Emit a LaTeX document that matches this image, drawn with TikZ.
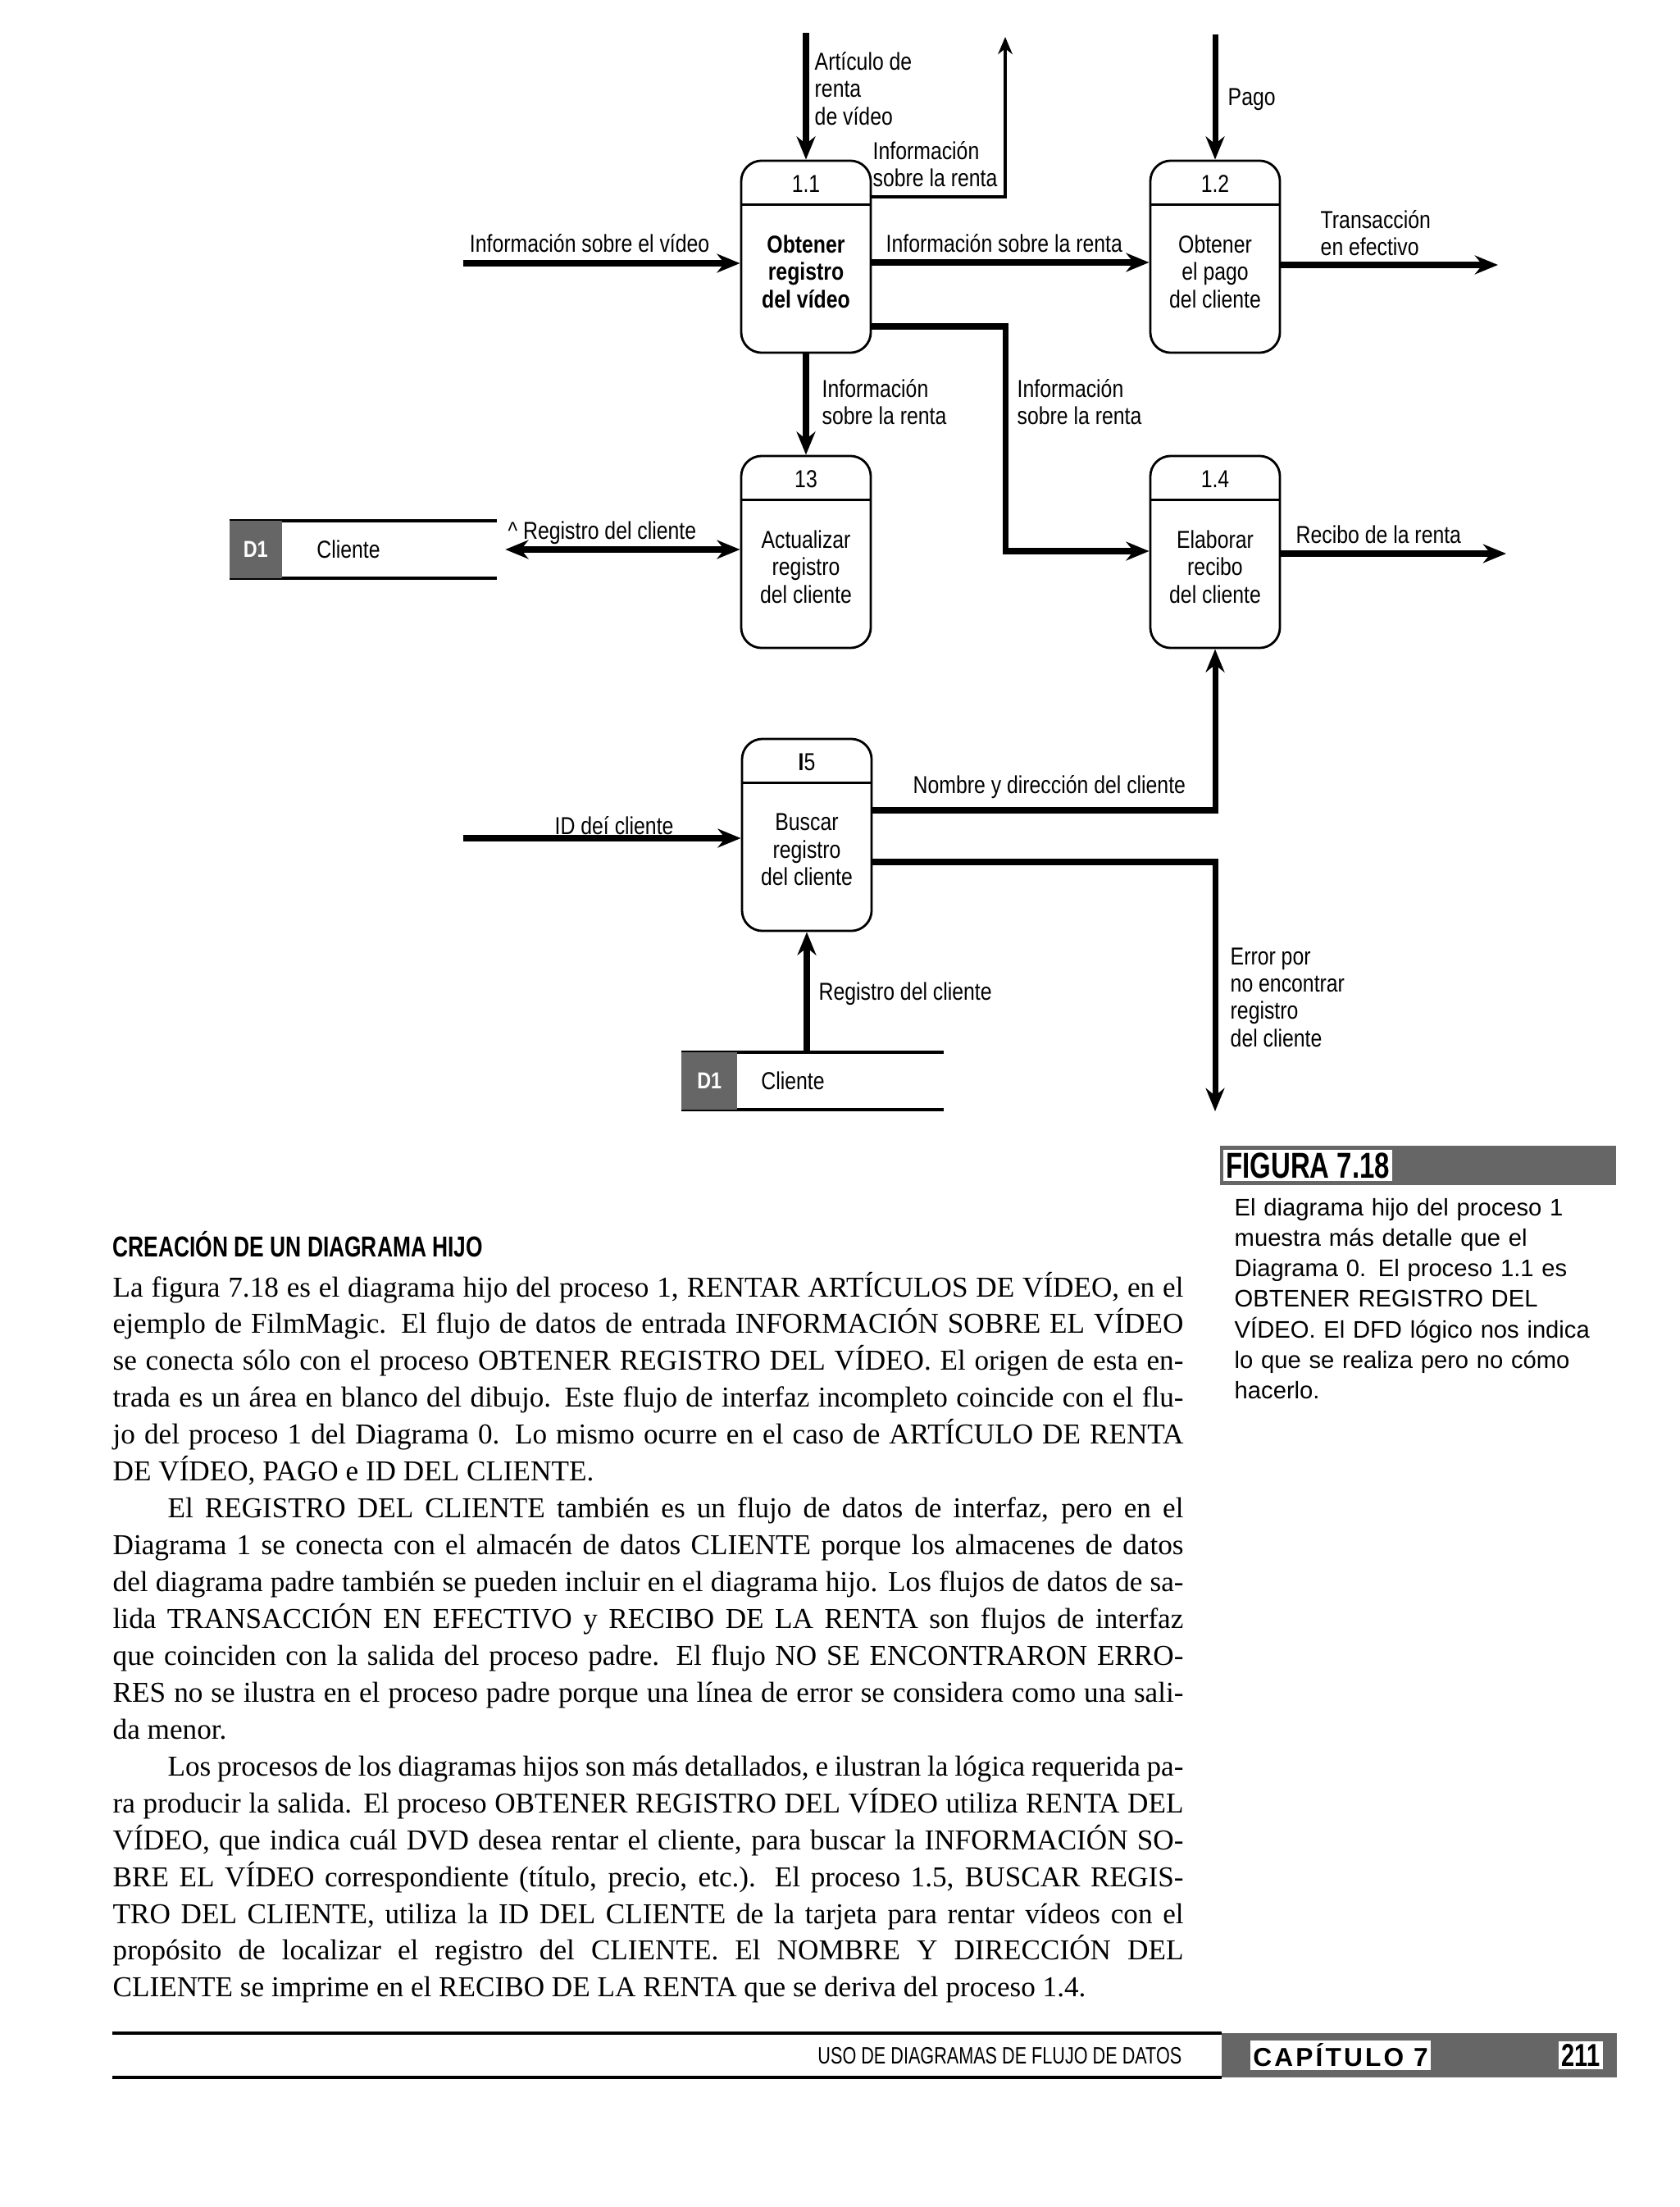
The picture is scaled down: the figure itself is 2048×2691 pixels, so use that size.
\documentclass[tikz,border=0pt]{standalone}
\usepackage{fontspec}
\setmainfont{Liberation Serif}
\newfontfamily\dfdfont[FakeStretch=0.83]{Liberation Sans}
\newfontfamily\narrowfont[FakeStretch=0.75]{Liberation Sans}
\newfontfamily\capfont{Liberation Sans}
\usetikzlibrary{arrows.meta,positioning,calc}

\newcommand\lblfont{\dfdfont\fontsize{8.5}{9.5}\selectfont}
\newcommand\jl[1]{\makebox[\hsize][s]{#1}\par}

\tikzset{
  proc/.style={draw, line width=0.8pt, rounded corners=0.25cm,
               minimum width=1.58cm, minimum height=2.34cm},
  lbl/.style={font=\lblfont, align=left},
  flow/.style={line width=2pt, -{Stealth[length=8pt,width=6.5pt]}},
  flowtwo/.style={line width=2pt,
                  {Stealth[length=8pt,width=6.5pt]}-{Stealth[length=8pt,width=6.5pt]}},
  thinflow/.style={line width=1.3pt, -{Stealth[length=6pt,width=5pt]}},
  store/.style={minimum height=0.69cm},
  shade/.style={fill=black!60},
}

\begin{document}
\begin{tikzpicture}[x=0.01cm, y=-0.01cm,
  every node/.style={inner sep=0pt},
]
\useasboundingbox (0,0) rectangle (2048,2691);
\fill[white] (0,0) rectangle (2048,2691);

%% Processes
\node[proc] (p11) at (983,313) {};
\node[proc] (p12) at (1482,313) {};
\node[proc] (p13) at (983,673) {};
\node[proc] (p14) at (1482,673) {};
\node[proc] (p15) at (984,1018) {};
\foreach \p in {p11,p12,p13,p14,p15}
  \draw[line width=0.8pt] ([yshift=-0.55cm]\p.north west) -- ([yshift=-0.55cm]\p.north east);

\node[lbl] (n11) at ([yshift=-0.3cm]p11.north) {1.1};
\node[lbl] (n12) at ([yshift=-0.3cm]p12.north) {1.2};
\node[lbl] (n13) at ([yshift=-0.3cm]p13.north) {13};
\node[lbl] (n14) at ([yshift=-0.3cm]p14.north) {1.4};
\node[lbl] (n15) at ([yshift=-0.3cm]p15.north) {\textbf{I}5};

\node[lbl, align=center] (t11) at ([yshift=-0.18cm]p11.center) {\bfseries Obtener\\\bfseries registro\\\bfseries del vídeo};
\node[lbl, align=center] (t12) at ([yshift=-0.18cm]p12.center) {Obtener\\el pago\\del cliente};
\node[lbl, align=center] (t13) at ([yshift=-0.18cm]p13.center) {Actualizar\\registro\\del cliente};
\node[lbl, align=center] (t14) at ([yshift=-0.18cm]p14.center) {Elaborar\\recibo\\del cliente};
\node[lbl, align=center] (t15) at ([yshift=-0.18cm]p15.center) {Buscar\\registro\\del cliente};

%% Data stores
\node[store, minimum width=3.25cm] (d1) at (443,670) {};
\node[store, minimum width=3.18cm] (d2) at (991,1318) {};
\foreach \s/\w in {d1/0.64cm, d2/0.68cm}{
  \draw[line width=1.2pt] (\s.north west) -- (\s.north east) (\s.south west) -- (\s.south east);
  \fill[shade] (\s.north west) rectangle ([xshift=\w]\s.south west);
}
\node[font=\dfdfont\bfseries\fontsize{8}{9}\selectfont, text=white] (d1n) at ([xshift=0.32cm]d1.west) {D1};
\node[font=\dfdfont\bfseries\fontsize{8}{9}\selectfont, text=white] (d2n) at ([xshift=0.34cm]d2.west) {D1};
\node[lbl] (d1t) at (425,670) {Cliente};
\node[lbl] (d2t) at (967,1318) {Cliente};

%% Free ends and bends
\coordinate (artin) at (983,40);
\coordinate (ub)    at (1226,240);
\coordinate (uout)  at (1226,45);
\coordinate (vin)   at (565,321);
\coordinate (r12)   at (1200,320);
\coordinate (pin)   at (1482,42);
\coordinate (tout)  at (1827,323);
\coordinate (rb1)   at (1226,398);
\coordinate (rb2)   at (1226,672);
\coordinate (rout)  at (1837,675);
\coordinate (idin)  at (565,1022);
\coordinate (nb)    at (1482,988);
\coordinate (eb)    at (1482,1051);
\coordinate (eout)  at (1482,1355);

%% Flows
\draw[flow] (artin) -- (p11.north);
\draw[thinflow] (p11.east |- ub) -- (ub) -- (uout);
\draw[flow] (vin) -- (p11.west |- vin);
\draw[flow] (p11.east |- r12) -- (p12.west |- r12);
\draw[flow] (pin) -- (p12.north);
\draw[flow] (p12.east |- tout) -- (tout);
\draw[flow] (p11.south) -- (p13.north);
\draw[flow] (p11.east |- rb1) -- (rb1) -- (rb2) -- (p14.west |- rb2);
\draw[flowtwo] ([xshift=0.1cm]d1.east) -- (p13.west |- d1.east);
\draw[flow] (p14.east |- rout) -- (rout);
\draw[flow] (idin) -- (p15.west |- idin);
\draw[flow] (p15.east |- nb) -- (nb) -- (p14.south);
\draw[flow] (p15.east |- eb) -- (eb) -- (eout);
\draw[flow] (p15.south |- d2.north) -- (p15.south);

%% Flow labels
\node[lbl, anchor=west] (lart) at (993,108) {Artículo de\\renta\\de vídeo};
\node[lbl, anchor=west] (lup)  at (1064,200) {Información\\sobre la renta};
\node[lbl, anchor=east] (lvid) at (866,297) {Información sobre el vídeo};
\node[lbl, anchor=west] (l12)  at (1080,297) {Información sobre la renta};
\node[lbl, anchor=west] (lpag) at (1497,121) {Pago};
\node[lbl, anchor=west] (ltra) at (1610,284) {Transacción\\en efectivo};
\node[lbl, anchor=west] (l13)  at (1002,490) {Información\\sobre la renta};
\node[lbl, anchor=west] (l14)  at (1240,490) {Información\\sobre la renta};
\node[lbl, anchor=west] (lreg) at (619,650) {\textasciicircum{} Registro del cliente};
\node[lbl, anchor=west] (lrec) at (1580,652) {Recibo de la renta};
\node[lbl, anchor=west] (lid)  at (676,1007) {ID deí cliente};
\node[lbl, anchor=west] (lnom) at (1113,960) {Nombre y dirección del cliente};
\node[lbl, anchor=west] (lerr) at (1500,1216) {Error por\\no encontrar\\registro\\del cliente};
\node[lbl, anchor=west] (lreg2) at (998,1212) {Registro del cliente};

%% Figure caption
\fill[shade] (1488,1397) rectangle (1971,1445);
\node[fill=white, inner sep=1pt, anchor=west,
      font=\narrowfont\bfseries\fontsize{12.5}{13}\selectfont] (fig) at (1491,1421) {FIGURA 7.18};
\node[anchor=base west, text width=4.7cm, align=left,
      font=\capfont\fontsize{8.3}{10.6}\selectfont] (capt) at (1505,1482)
  {El diagrama hijo del proceso 1\\muestra más detalle que el\\Diagrama 0. El proceso 1.1 es\\OBTENER REGISTRO DEL\\VÍDEO. El DFD lógico nos indica\\lo que se realiza pero no cómo\\hacerlo.};

%% Section heading and text
\node[anchor=base west, font=\narrowfont\bfseries\fontsize{10}{12}\selectfont] (head) at (137,1532)
  {CREACIÓN DE UN DIAGRAMA HIJO};

\node[anchor=base west, text width=13.05cm, align=justify,
      font=\fontsize{10}{12.78}\selectfont] (body) at (137,1581) {%
\setlength{\parindent}{0pt}%
\jl{La figura 7.18 es el diagrama hijo del proceso 1, RENTAR ARTÍCULOS DE VÍDEO, en el}
\jl{ejemplo de FilmMagic. El flujo de datos de entrada INFORMACIÓN SOBRE EL VÍDEO}
\jl{se conecta sólo con el proceso OBTENER REGISTRO DEL VÍDEO. El origen de esta en-}
\jl{trada es un área en blanco del dibujo. Este flujo de interfaz incompleto coincide con el flu-}
\jl{jo del proceso 1 del Diagrama 0. Lo mismo ocurre en el caso de ARTÍCULO DE RENTA}
DE VÍDEO, PAGO e ID DEL CLIENTE.\par
\jl{\hspace*{19pt}El REGISTRO DEL CLIENTE también es un flujo de datos de interfaz, pero en el}
\jl{Diagrama 1 se conecta con el almacén de datos CLIENTE porque los almacenes de datos}
\jl{del diagrama padre también se pueden incluir en el diagrama hijo. Los flujos de datos de sa-}
\jl{lida TRANSACCIÓN EN EFECTIVO y RECIBO DE LA RENTA son flujos de interfaz}
\jl{que coinciden con la salida del proceso padre. El flujo NO SE ENCONTRARON ERRO-}
\jl{RES no se ilustra en el proceso padre porque una línea de error se considera como una sali-}
da menor.\par
\jl{\hspace*{19pt}Los procesos de los diagramas hijos son más detallados, e ilustran la lógica requerida pa-}
\jl{ra producir la salida. El proceso OBTENER REGISTRO DEL VÍDEO utiliza RENTA DEL}
\jl{VÍDEO, que indica cuál DVD desea rentar el cliente, para buscar la INFORMACIÓN SO-}
\jl{BRE EL VÍDEO correspondiente (título, precio, etc.). El proceso 1.5, BUSCAR REGIS-}
\jl{TRO DEL CLIENTE, utiliza la ID DEL CLIENTE de la tarjeta para rentar vídeos con el}
\jl{propósito de localizar el registro del CLIENTE. El NOMBRE Y DIRECCIÓN DEL}
CLIENTE se imprime en el RECIBO DE LA RENTA que se deriva del proceso 1.4.\par};

%% Footer
\draw[line width=1.2pt] (137,2479) -- (1490,2479) (137,2533) -- (1490,2533);
\fill[shade] (1490,2479) rectangle (1972,2533);
\node[anchor=east, font=\narrowfont\fontsize{8.2}{10}\selectfont] (foot) at (1442,2507)
  {USO DE DIAGRAMAS DE FLUJO DE DATOS};
\node[fill=white, inner sep=1pt, font=\capfont\bfseries\fontsize{9}{10}\selectfont\addfontfeature{LetterSpace=10}]
  (chap) at (1635,2506) {CAPÍTULO 7};
\node[fill=white, inner sep=1pt, font=\narrowfont\bfseries\fontsize{11}{12}\selectfont]
  (pagenum) at (1928,2506) {211};

\end{tikzpicture}
\end{document}
